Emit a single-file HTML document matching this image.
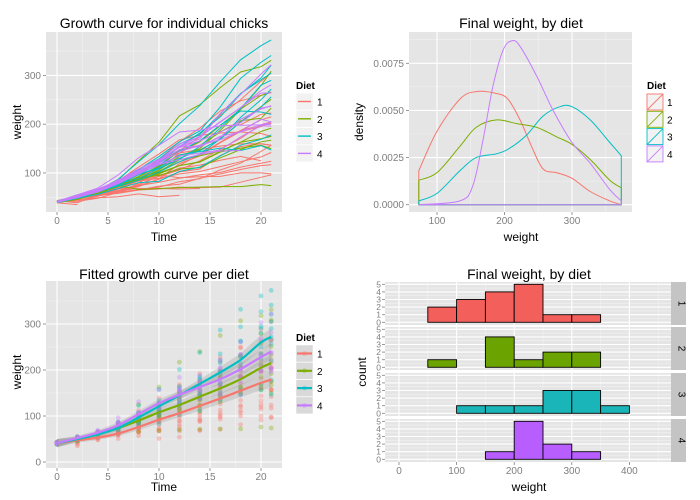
<!DOCTYPE html>
<html><head><meta charset="utf-8">
<style>
html,body{margin:0;padding:0;background:#fff;}
svg{display:block;font-family:"Liberation Sans",Arial,sans-serif;}
.tk{fill:#7f7f7f;font-size:10px;}
.tt{fill:#000;font-size:14px;}
.at{fill:#000;font-size:12px;}
.lg{fill:#000;font-size:10px;}
.lt{fill:#000;font-size:10px;font-weight:bold;}
</style></head>
<body>
<svg id="chart" width="700" height="500" viewBox="0 0 700 500" xmlns="http://www.w3.org/2000/svg"></svg>
<script>
// ---------- data ----------
const dietColors = ["#F8766D","#7CAE00","#00BFC4","#C77CFF"];
const histColors = ["#F35F5B","#6BA300","#19B5B8","#B85EFF"];
const dietLabels = ["1","2","3","4"];
const days = [0,2,4,6,8,10,12,14,16,18,20,21];
const chickDiet = [0,0,0,0,0,0,0,0,0,0,0,0,0,0,0,0,0,0,0,0, 1,1,1,1,1,1,1,1,1,1, 2,2,2,2,2,2,2,2,2,2, 3,3,3,3,3,3,3,3,3,3];
const chickWeights = [
[42,51,59,64,76,93,106,125,149,171,199,205],
[40,49,58,72,84,103,122,138,162,187,209,215],
[43,39,55,67,84,99,115,138,163,187,198,202],
[42,49,56,67,74,87,102,108,136,154,160,157],
[41,42,48,60,79,106,141,164,197,199,220,223],
[41,49,59,74,97,124,141,148,155,160,160,157],
[41,49,57,71,89,112,146,174,218,250,288,305],
[42,50,61,71,84,93,110,116,126,134,125],
[42,51,59,68,85,96,90,92,93,100,100,98],
[41,44,52,63,74,81,89,96,101,112,120,124],
[43,51,63,84,112,139,168,177,182,184,181,175],
[41,49,56,62,72,88,119,135,162,185,195,205],
[41,48,53,60,65,67,71,70,71,81,91,96],
[41,49,62,79,101,128,164,192,227,248,259,266],
[41,49,56,64,68,68,67,68],
[41,45,49,51,57,51,54],
[42,51,61,72,83,89,98,103,113,123,133,142],
[39,35],
[43,48,55,62,65,71,82,88,106,120,144,157],
[41,47,54,58,65,73,77,89,98,107,115,117],
[40,50,62,86,125,163,217,240,275,307,318,331],
[41,55,64,77,90,95,108,111,131,148,164,167],
[43,52,61,73,90,103,127,135,145,163,170,175],
[42,52,58,74,66,68,70,71,72,72,76,74],
[40,49,62,78,102,124,146,164,197,231,259,265],
[42,48,57,74,93,114,136,147,169,205,236,251],
[39,46,58,73,87,100,115,123,144,163,185,192],
[39,46,58,73,92,114,145,156,184,207,212,233],
[39,48,59,74,87,106,134,150,187,230,279,309],
[42,48,59,72,85,98,115,122,143,151,157,150],
[42,53,62,73,85,102,123,138,170,204,235,256],
[41,49,65,82,107,129,159,179,221,263,291,305],
[39,50,63,77,96,111,137,144,151,146,156,147],
[41,49,63,85,107,134,164,186,235,294,327,341],
[41,53,64,87,123,158,201,238,287,332,361,373],
[39,48,61,76,98,116,145,166,198,227,225,220],
[41,48,56,68,80,83,103,112,135,157,169,178],
[41,49,61,74,98,109,128,154,192,232,280,290],
[42,50,61,78,89,109,130,146,170,214,250,272],
[41,55,66,79,101,120,154,182,215,262,295,321],
[42,51,66,85,103,124,155,153,175,184,199,204],
[42,49,63,84,103,126,160,174,204,234,269,281],
[42,55,69,96,131,157,184,188,197,198,199,200],
[42,51,65,86,103,118,127,138,145,146],
[41,50,61,78,98,117,135,141,147,174,197,196],
[40,52,62,82,101,120,144,156,173,210,231,238],
[41,53,66,79,100,123,148,157,168,185,210,205],
[39,50,62,80,104,125,154,170,222,261,303,322],
[40,53,64,85,108,128,152,166,184,203,233,237],
[41,54,67,84,105,122,155,175,205,234,264,264]
];
// density curves (weight, density) per diet
const densX1 = [73,100,134,158,188,205,223,240,257,277,300,327,356,373];
const densY1 = [0.0018,0.0039,0.0056,0.0060,0.0059,0.0056,0.0045,0.0031,0.0019,0.0017,0.0014,0.0007,0.0002,0.0000];
const densX2 = [73,100,134,158,188,218,248,277,300,327,356,373];
const densY2 = [0.0013,0.0017,0.0031,0.0041,0.0045,0.0043,0.0041,0.0036,0.0032,0.0024,0.0013,0.0009];
const densX3 = [73,100,134,158,188,208,233,257,282,300,327,356,373];
const densY3 = [0.0002,0.0006,0.0018,0.0025,0.0027,0.0030,0.0037,0.0047,0.0052,0.0052,0.0045,0.0033,0.0026];
const densX4 = [73,134,153,168,183,198,211,223,248,272,300,327,356,373];
const densY4 = [0.0000,0.0002,0.0010,0.0034,0.0063,0.0082,0.0087,0.0084,0.0068,0.0050,0.0033,0.0022,0.0008,0.0002];
// fitted curves
const fitDays = [0,2,4,6,8,10,12,14,16,18,20,21];
const fit1 = [41,47,53,62,76,92,106,122,138,155,172,179];
const fit2 = [41,50,60,74,90,108,124,142,160,180,205,215];
const fit3 = [41,50,60,74,97,121,145,170,195,222,260,272];
const fit4 = [41,52,64,80,104,128,146,163,180,202,228,240];
const fitSE = [9,5,5,6,7,8,9,10,12,14,16,18];
// histogram
const binEdges = [0,50,100,150,200,250,300,350,400,450];
const hist1 = [0,2,3,4,5,1,1,0,0];
const hist2 = [0,1,0,4,1,2,2,0,0];
const hist3 = [0,0,1,1,1,3,3,1,0];
const hist4 = [0,0,0,1,5,2,1,0,0];

// ---------- helpers ----------
const NS = "http://www.w3.org/2000/svg";
const svg = document.getElementById("chart");
function mk(tag, attrs, parent, text){
  const e = document.createElementNS(NS, tag);
  for (const k in attrs) e.setAttribute(k, attrs[k]);
  if (text !== undefined) e.textContent = text;
  (parent||svg).appendChild(e);
  return e;
}
function grp(name){
  const g = mk("g", {});
  
  
  return g;
}
function txt(parent, x, y, s, cls, anchor, name, rot){
  const a = {x:x, y:y, class:cls, "text-anchor":anchor||"middle"};
  if (rot) a.transform = "rotate("+rot+" "+x+" "+y+")";
  const t = mk("text", a, parent, s);
  
  
  return t;
}
function panelBg(g, x, y, w, h, xs, xminor, ys, yminor, sx, sy){
  mk("rect", {x:x, y:y, width:w, height:h, fill:"#e5e5e5"}, g);
  xminor.forEach(v=>mk("line",{x1:sx(v),x2:sx(v),y1:y,y2:y+h,stroke:"#f2f2f2","stroke-width":0.6},g));
  yminor.forEach(v=>mk("line",{x1:x,x2:x+w,y1:sy(v),y2:sy(v),stroke:"#f2f2f2","stroke-width":0.6},g));
  xs.forEach(v=>mk("line",{x1:sx(v),x2:sx(v),y1:y,y2:y+h,stroke:"#fff","stroke-width":1.1},g));
  ys.forEach(v=>mk("line",{x1:x,x2:x+w,y1:sy(v),y2:sy(v),stroke:"#fff","stroke-width":1.1},g));
}
function xTicks(g, xs, sx, yb, lab){
  xs.forEach((v,i)=>{
    mk("line",{x1:sx(v),x2:sx(v),y1:yb,y2:yb+3,stroke:"#7f7f7f","stroke-width":0.8},g);
    txt(g, sx(v), yb+12, lab[i], "tk", "middle", "x-tick-label");
  });
}
function yTicks(g, ys, sy, xl, lab){
  ys.forEach((v,i)=>{
    mk("line",{x1:xl-3,x2:xl,y1:sy(v),y2:sy(v),stroke:"#7f7f7f","stroke-width":0.8},g);
    txt(g, xl-5, sy(v)+3.5, lab[i], "tk", "end", "y-tick-label");
  });
}
// smooth path through points (Catmull-Rom -> Bezier)
function smooth(P){
  let d = "";
  for (let i=0;i<P.length-1;i++){
    const p0=P[Math.max(0,i-1)], p1=P[i], p2=P[i+1], p3=P[Math.min(P.length-1,i+2)];
    const c1=[p1[0]+(p2[0]-p0[0])/6, p1[1]+(p2[1]-p0[1])/6];
    const c2=[p2[0]-(p3[0]-p1[0])/6, p2[1]-(p3[1]-p1[1])/6];
    d += " C"+c1[0].toFixed(1)+","+c1[1].toFixed(1)+" "+c2[0].toFixed(1)+","+c2[1].toFixed(1)+" "+p2[0].toFixed(1)+","+p2[1].toFixed(1);
  }
  return d;
}

// ---------- panel 1: individual growth curves ----------
(function(){
  const g = grp("growth-curve-panel");
  const sx = t=>57+t*10.2, sy = w=>221.7-w*0.4875;
  panelBg(g,46,32,236,180,[0,5,10,15,20],[2.5,7.5,12.5,17.5],[100,200,300],[50,150,250,350],sx,sy);
  chickWeights.forEach((ws,ci)=>{
    const pts = ws.map((w,i)=>sx(days[i]).toFixed(1)+","+sy(w).toFixed(1)).join(" ");
    const l = mk("polyline",{points:pts,fill:"none",stroke:dietColors[chickDiet[ci]],"stroke-width":1},g);
    
    
  });
  xTicks(g,[0,5,10,15,20],sx,212,["0","5","10","15","20"]);
  yTicks(g,[100,200,300],sy,46,["100","200","300"]);
  txt(g,164,28,"Growth curve for individual chicks","tt","middle","chart-title");
  txt(g,164,241,"Time","at","middle","x-axis-title");
  txt(g,21,122,"weight","at","middle","y-axis-title",-90);
  const lg = grp("legend");
  txt(lg,296,89,"Diet","lt","start","legend-title");
  dietColors.forEach((c,i)=>{
    const y0 = 93+i*17.3;
    const e = mk("g",{},lg);
    
    
    mk("rect",{x:296,y:y0,width:17,height:17,fill:"#f2f2f2",stroke:"#fff","stroke-width":0.5},e);
    mk("line",{x1:298,x2:311,y1:y0+8.5,y2:y0+8.5,stroke:c,"stroke-width":1.4},e);
    txt(e,317,y0+12.5,dietLabels[i],"lg","start","legend-label");
  });
})();

// ---------- panel 2: density ----------
(function(){
  const g = grp("density-panel");
  const sx = w=>437+(w-100)*0.675, sy = d=>204.7-d*18853;
  panelBg(g,409,32,223,180,[100,200,300],[150,250,350],[0,0.0025,0.005,0.0075],[0.00125,0.00375,0.00625,0.00875],sx,sy);
  const DX=[densX1,densX2,densX3,densX4], DY=[densY1,densY2,densY3,densY4];
  DX.forEach((xs,k)=>{
    const P = xs.map((x,i)=>[sx(x), sy(DY[k][i])]);
    let d = "M"+sx(xs[0]).toFixed(1)+","+sy(0).toFixed(1)+" L"+P[0][0].toFixed(1)+","+P[0][1].toFixed(1);
    d += smooth(P);
    d += " L"+sx(xs[xs.length-1]).toFixed(1)+","+sy(0).toFixed(1)+" Z";
    const p = mk("path",{d:d,fill:"none",stroke:dietColors[k],"stroke-width":1,"stroke-linejoin":"round"},g);
    
    
  });
  xTicks(g,[100,200,300],sx,212,["100","200","300"]);
  yTicks(g,[0,0.0025,0.005,0.0075],sy,409,["0.0000","0.0025","0.0050","0.0075"]);
  txt(g,521,28,"Final weight, by diet","tt","middle","chart-title");
  txt(g,521,241,"weight","at","middle","x-axis-title");
  txt(g,363,122,"density","at","middle","y-axis-title",-90);
  const lg = grp("legend");
  txt(lg,647,89,"Diet","lt","start","legend-title");
  dietColors.forEach((c,i)=>{
    const y0 = 94+i*17.3;
    const e = mk("g",{},lg);
    
    
    mk("rect",{x:647,y:y0,width:16,height:16,fill:"#f2f2f2",stroke:c,"stroke-width":0.9},e);
    mk("line",{x1:647,x2:663,y1:y0+16,y2:y0,stroke:c,"stroke-width":0.9},e);
    txt(e,667,y0+12,dietLabels[i],"lg","start","legend-label");
  });
})();

// ---------- panel 3: fitted curves ----------
(function(){
  const g = grp("fitted-curve-panel");
  const sx = t=>57+t*10.2, sy = w=>462-w*0.46;
  panelBg(g,46,281,236,187,[0,5,10,15,20],[2.5,7.5,12.5,17.5],[0,100,200,300],[50,150,250,350],sx,sy);
  chickWeights.forEach((ws,ci)=>{
    ws.forEach((w,i)=>{
      const c = mk("circle",{cx:sx(days[i]).toFixed(1),cy:sy(w).toFixed(1),r:2.4,fill:dietColors[chickDiet[ci]],"fill-opacity":0.35},g);
      
      
    });
  });
  const fits=[fit1,fit2,fit3,fit4];
  fits.forEach(f=>{
    let d="M";
    fitDays.forEach((t,i)=>{ d += (i?" L":"")+sx(t).toFixed(1)+","+sy(f[i]+fitSE[i]).toFixed(1); });
    for(let i=fitDays.length-1;i>=0;i--) d += " L"+sx(fitDays[i]).toFixed(1)+","+sy(f[i]-fitSE[i]).toFixed(1);
    d+=" Z";
    const r = mk("path",{d:d,fill:"#999","fill-opacity":0.3,stroke:"none"},g);
    
    
  });
  fits.forEach((f,k)=>{
    const P = f.map((w,i)=>[sx(fitDays[i]), sy(w)]);
    const l = mk("path",{d:"M"+P[0][0].toFixed(1)+","+P[0][1].toFixed(1)+smooth(P),fill:"none",stroke:dietColors[k],"stroke-width":2.2},g);
    
    
  });
  xTicks(g,[0,5,10,15,20],sx,468,["0","5","10","15","20"]);
  yTicks(g,[0,100,200,300],sy,46,["0","100","200","300"]);
  txt(g,164,279,"Fitted growth curve per diet","tt","middle","chart-title");
  txt(g,164,491,"Time","at","middle","x-axis-title");
  txt(g,21,372,"weight","at","middle","y-axis-title",-90);
  const lg = grp("legend");
  txt(lg,296,341,"Diet","lt","start","legend-title");
  dietColors.forEach((c,i)=>{
    const y0 = 345+i*17.3;
    const e = mk("g",{},lg);
    
    
    mk("rect",{x:296,y:y0,width:17,height:17,fill:"#d9d9d9",stroke:"#fff","stroke-width":0.5},e);
    mk("circle",{cx:304.5,cy:y0+8.5,r:2.4,fill:c,"fill-opacity":0.35},e);
    mk("line",{x1:297,x2:312,y1:y0+8.5,y2:y0+8.5,stroke:c,"stroke-width":2.2},e);
    txt(e,317,y0+12.5,dietLabels[i],"lg","start","legend-label");
  });
})();

// ---------- panel 4: histograms ----------
(function(){
  const g = grp("histogram-panel");
  const sx = w=>399+w*0.576;
  const tops=[282,327,373,419];
  const H=[hist1,hist2,hist3,hist4];
  tops.forEach((top,k)=>{
    const f = grp("facet-"+(k+1));
    g.appendChild(f);
    const sy = c=>top+40.3-c*7.6;
    panelBg(f,385,top,286,43,[0,100,200,300,400],[50,150,250,350,450],[0,1,2,3,4,5],[0.5,1.5,2.5,3.5,4.5],sx,sy);
    H[k].forEach((c,i)=>{
      const x0=sx(binEdges[i]), x1=sx(binEdges[i+1]);
      const r = mk("rect",{x:x0.toFixed(1),y:sy(c).toFixed(1),width:(x1-x0).toFixed(1),height:Math.max(0,sy(0)-sy(c)).toFixed(1),fill:histColors[k],stroke:"#000","stroke-width":0.9},f);
      
      
    });
    [0,1,2,3,4,5].forEach(v=>{
      mk("line",{x1:382,x2:385,y1:sy(v),y2:sy(v),stroke:"#7f7f7f","stroke-width":0.8},f);
      txt(f,381,sy(v)+3,String(v),"tk","end","y-tick-label").setAttribute("style","font-size:8.5px");
    });
    mk("rect",{x:671,y:top,width:15,height:43,fill:"#c4c4c4"},f);
    txt(f,678.5,top+21.5,dietLabels[k],"lg","middle","facet-strip-label",90);
  });
  xTicks(g,[0,100,200,300,400],sx,462,["0","100","200","300","400"]);
  txt(g,529,279,"Final weight, by diet","tt","middle","chart-title");
  txt(g,529,491,"weight","at","middle","x-axis-title");
  txt(g,366,372,"count","at","middle","y-axis-title",-90);
})();
</script>
</body></html>
